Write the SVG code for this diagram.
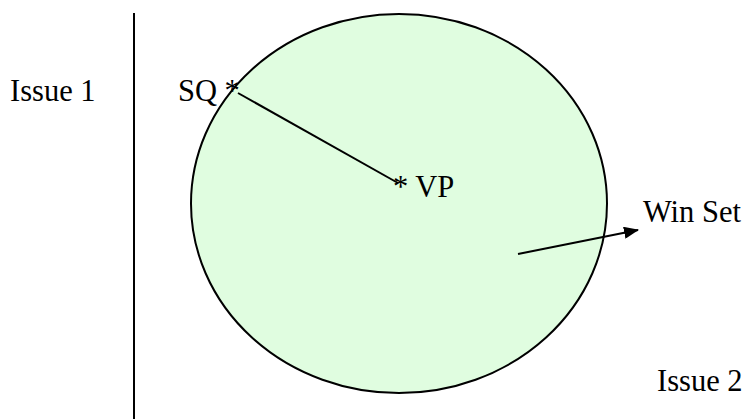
<svg xmlns="http://www.w3.org/2000/svg" width="747" height="419" viewBox="0 0 747 419">
<style>
.t{font-family:'Liberation Serif','DejaVu Serif',serif;font-size:30.5px;fill:#000}
.ln{stroke:#000;stroke-width:2;fill:none}
</style>
<defs>
<marker id="ah" markerWidth="15" markerHeight="12" refX="14" refY="6" orient="auto" markerUnits="userSpaceOnUse" viewBox="0 0 15 12">
<path d="M0,0 L15,6 L0,12 z" fill="#000"/>
</marker>
</defs>
<rect width="747" height="419" fill="#fff"/>
<g id="axis"><line class="ln" x1="134" y1="13" x2="134" y2="419"/></g>
<g id="winset-circle"><ellipse cx="399" cy="203.5" rx="208" ry="189.5" fill="#e0fde0" stroke="#000" stroke-width="2"/></g>
<g id="issue1"><text class="t" x="10" y="101">Issue 1</text></g>
<g id="sq"><text class="t" x="178" y="101">SQ *</text></g>
<g id="vp"><text class="t" x="393" y="197">* VP</text></g>
<g id="winset-label"><text class="t" x="643" y="222">Win Set</text></g>
<g id="issue2"><text class="t" x="657" y="391">Issue 2</text></g>
<g id="connectors">
<line class="ln" x1="238" y1="93" x2="398" y2="183"/>
<line class="ln" x1="518" y1="254" x2="638" y2="230" marker-end="url(#ah)" stroke-width="3"/>
</g>
</svg>
